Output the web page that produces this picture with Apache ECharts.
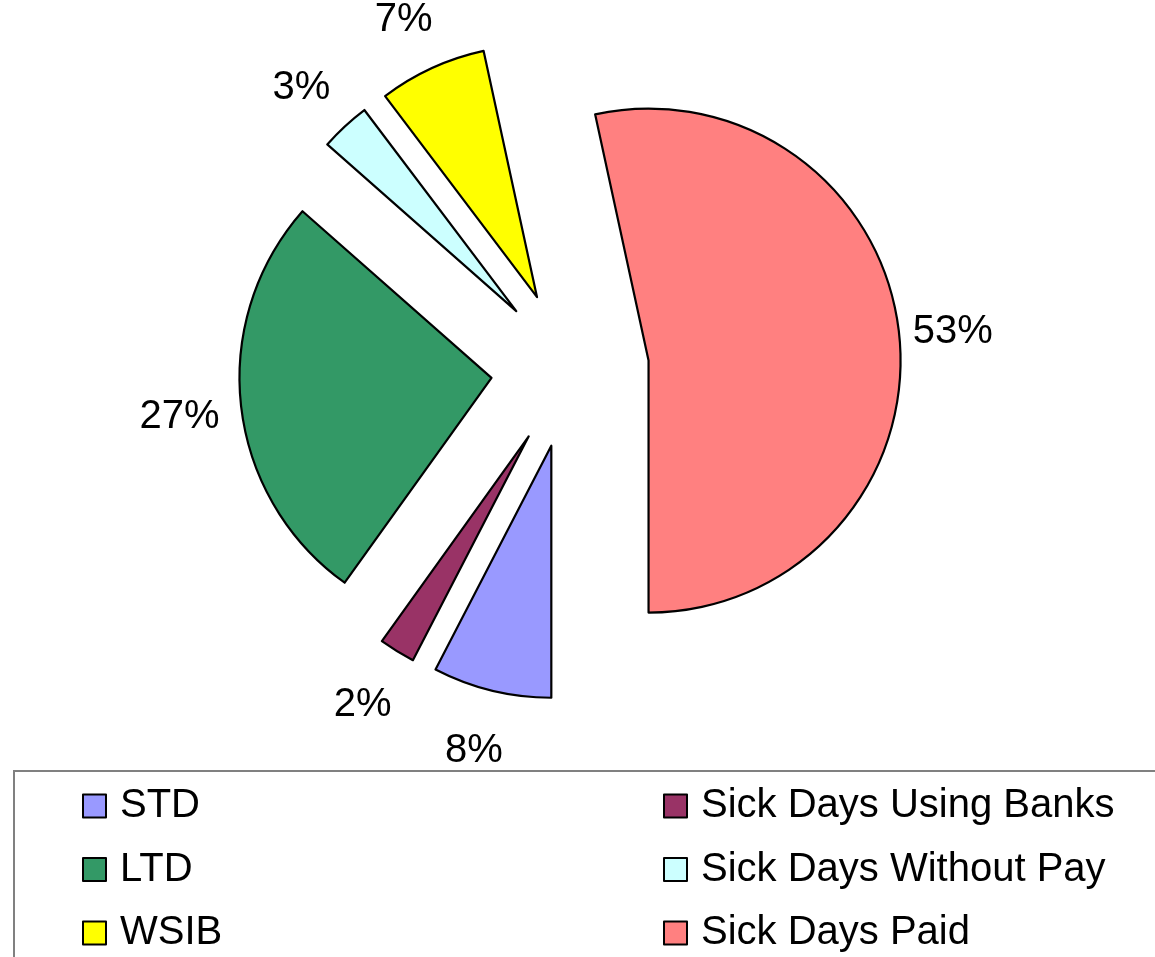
<!DOCTYPE html>
<html lang="en">

<head>
    <meta charset="UTF-8">
    <title>Sick Days</title>
    <script src="https://cdn.jsdelivr.net/npm/echarts@6/dist/echarts.min.js"></script>
    <style>
        body { margin: 0; background: #fff; }
    </style>
</head>

<body>
    <div id="main" style="width: 1155px;height:957px;"></div>

    <script type="text/javascript">
        // data (share of days, %)
        const categories = ['STD', 'Sick Days Using Banks', 'LTD', 'Sick Days Without Pay', 'WSIB', 'Sick Days Paid'];
        const shares = [7.6, 2.3, 26.6, 3.2, 6.9, 53.4];

        const font = "'Liberation Sans', Arial, sans-serif";

        var myChart = echarts.init(document.getElementById('main'));

        const pieData = categories.map((name, i) => ({ name: name, value: shares[i], selected: true }));

        // legend: two columns, row by row
        const leftCol = categories.filter((c, i) => i % 2 === 0);
        const rightCol = categories.filter((c, i) => i % 2 === 1);

        const legendCommon = {
            orient: 'vertical',
            top: 786,
            padding: 0,
            itemGap: 23.5,
            itemWidth: 23,
            itemHeight: 23,
            icon: 'rect',
            selectedMode: false,
            itemStyle: { borderColor: '#000', borderWidth: 2 },
            textStyle: { color: '#000', fontSize: 40, fontFamily: font, padding: [0, 0, 0, 9] }
        };

        option = {
            animation: false,
            color: ['#9999FF', '#993366', '#339966', '#CCFFFF', '#FFFF00', '#FF8080'],
            graphic: [{
                type: 'rect',
                z: 0,
                shape: { x: 14, y: 771, width: 1200, height: 300 },
                style: { fill: '#fff', stroke: '#808080', lineWidth: 2 }
            }],
            legend: [
                Object.assign({ left: 82, data: leftCol }, legendCommon),
                Object.assign({ left: 663, data: rightCol }, legendCommon)
            ],
            series: [
                {
                    name: 'slices',
                    type: 'pie',
                    center: [570, 369],
                    radius: 252,
                    startAngle: -90,
                    clockwise: true,
                    selectedMode: 'multiple',
                    selectedOffset: 79,
                    avoidLabelOverlap: false,
                    itemStyle: { borderColor: '#000', borderWidth: 2.2 },
                    select: { itemStyle: { borderColor: '#000', borderWidth: 2.2 } },
                    emphasis: { disabled: true },
                    label: { show: false },
                    labelLine: { show: false },
                    data: pieData
                },
                {
                    // transparent ring only used to place the % labels
                    name: 'labels',
                    type: 'pie',
                    silent: true,
                    center: [570, 369],
                    radius: [300, 314],
                    startAngle: -90,
                    clockwise: true,
                    selectedMode: 'multiple',
                    selectedOffset: 79,
                    avoidLabelOverlap: false,
                    percentPrecision: 0,
                    itemStyle: { color: 'rgba(0,0,0,0)', borderWidth: 0 },
                    select: { itemStyle: { color: 'rgba(0,0,0,0)', borderWidth: 0 } },
                    emphasis: { disabled: true },
                    label: {
                        show: true,
                        position: 'inside',
                        formatter: '{d}%',
                        color: '#000',
                        fontSize: 40,
                        fontFamily: font,
                        textBorderWidth: 0
                    },
                    labelLayout: { dx: -4, dy: 4 },
                    labelLine: { show: false },
                    data: pieData
                }
            ]
        };

        myChart.setOption(option);
    </script>
</body>

</html>
